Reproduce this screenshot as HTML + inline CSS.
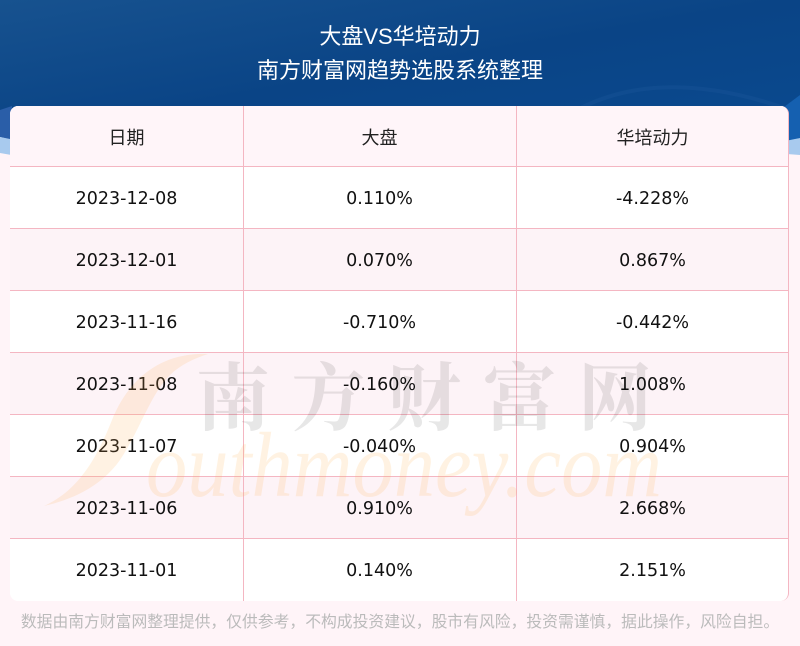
<!DOCTYPE html>
<html>
<head>
<meta charset="utf-8">
<style>
*{margin:0;padding:0;box-sizing:border-box;}
html,body{width:800px;height:646px;overflow:hidden;background:#fff4f8;}
body{position:relative;font-family:"Liberation Sans","Noto Sans CJK SC",sans-serif;}
.top{position:absolute;left:0;top:0;width:800px;height:160px;}
.title{position:absolute;left:0;width:800px;text-align:center;color:#fff;font-size:22px;font-family:"Liberation Sans","Noto Sans CJK SC",sans-serif;line-height:30px;}
.card{position:absolute;left:10px;top:106px;width:779px;height:495px;border-radius:8px;overflow:hidden;background:#fff;border-right:1px solid #f4b6c2;}
.row{position:absolute;left:0;width:779px;height:62px;border-bottom:1px solid #f4b6c2;}
.row.pink{background:#fdf3f7;}
.row.hdr{background:#fff5f9;height:61px;}
.cell{position:absolute;top:1px;height:100%;display:flex;align-items:center;justify-content:center;font-family:"DejaVu Sans","Noto Sans CJK SC",sans-serif;font-size:17.5px;color:#111;}
.c1{left:0;width:233px;}
.c2{left:233px;width:273px;}
.c3{left:506px;width:273px;}
.hdr .cell{font-family:"Noto Sans CJK SC",sans-serif;font-size:18px;color:#222;}
.vline{position:absolute;top:0;width:1px;height:495px;background:#f4b6c2;}
.wm{position:absolute;left:0;top:0;width:800px;height:646px;pointer-events:none;}
.foot{position:absolute;left:0;top:609px;width:800px;text-align:center;font-family:"Noto Sans CJK SC",sans-serif;font-size:15.8px;color:#bbbbbb;line-height:24px;white-space:nowrap;}
</style>
</head>
<body>
<svg class="top" width="800" height="160" viewBox="0 0 800 160">
<defs>
<linearGradient id="bg" x1="0" y1="0" x2="1" y2="1">
<stop offset="0" stop-color="#17528f"/>
<stop offset="0.5" stop-color="#0a4486"/>
<stop offset="1" stop-color="#0a4a90"/>
</linearGradient>
</defs>
<rect x="0" y="0" width="800" height="160" fill="#fff4f8"/>
<polygon points="0,0 800,0 800,140 0,137" fill="url(#bg)"/>
<polygon points="0,110 12,106 12,140 0,137" fill="#2a5ea8"/>
<polygon points="0,137 40,145 40,160 0,153" fill="#a8caee"/>
<polygon points="760,140 800,138 800,155 760,152" fill="#a8caee"/>
<polygon points="780,110 800,95 800,138 780,142" fill="#1560b0"/>
<path d="M560 120 Q650 60 790 110" stroke="#2a64a6" stroke-width="4" fill="none" opacity="0.2"/>
</svg>
<div class="title" style="top:22px;">大盘VS华培动力</div>
<div class="title" style="top:56px;">南方财富网趋势选股系统整理</div>

<div class="card">
<div class="row hdr" style="top:0;"><div class="cell c1">日期</div><div class="cell c2">大盘</div><div class="cell c3">华培动力</div></div>
<div class="row" style="top:61px;"><div class="cell c1">2023-12-08</div><div class="cell c2">0.110%</div><div class="cell c3">-4.228%</div></div>
<div class="row pink" style="top:123px;"><div class="cell c1">2023-12-01</div><div class="cell c2">0.070%</div><div class="cell c3">0.867%</div></div>
<div class="row" style="top:185px;"><div class="cell c1">2023-11-16</div><div class="cell c2">-0.710%</div><div class="cell c3">-0.442%</div></div>
<div class="row pink" style="top:247px;"><div class="cell c1">2023-11-08</div><div class="cell c2">-0.160%</div><div class="cell c3">1.008%</div></div>
<div class="row" style="top:309px;"><div class="cell c1">2023-11-07</div><div class="cell c2">-0.040%</div><div class="cell c3">0.904%</div></div>
<div class="row pink" style="top:371px;"><div class="cell c1">2023-11-06</div><div class="cell c2">0.910%</div><div class="cell c3">2.668%</div></div>
<div class="row" style="top:433px;border-bottom:none;"><div class="cell c1">2023-11-01</div><div class="cell c2">0.140%</div><div class="cell c3">2.151%</div></div>
<div class="vline" style="left:233px;"></div>
<div class="vline" style="left:506px;"></div>
</div>

<svg class="wm" width="800" height="646" viewBox="0 0 800 646">
<path d="M208 354 C160 352 128 380 112 420 C98 455 80 490 44 506 C70 500 100 488 120 460 C140 430 150 395 170 375 C180 365 195 358 208 354 Z" fill="#ffb050" opacity="0.16"/>
<text x="146" y="496" font-family="Liberation Serif, serif" font-style="italic" font-size="92" textLength="516" lengthAdjust="spacingAndGlyphs" fill="#ffb050" opacity="0.16">outhmoney.com</text>
<text x="196" y="424" font-family="Noto Serif CJK SC, Noto Sans CJK SC, serif" font-weight="bold" font-size="74" textLength="456" lengthAdjust="spacing" fill="#000" opacity="0.09">南方财富网</text>
</svg>

<div class="foot">数据由南方财富网整理提供，仅供参考，不构成投资建议，股市有风险，投资需谨慎，据此操作，风险自担。</div>
</body>
</html>
